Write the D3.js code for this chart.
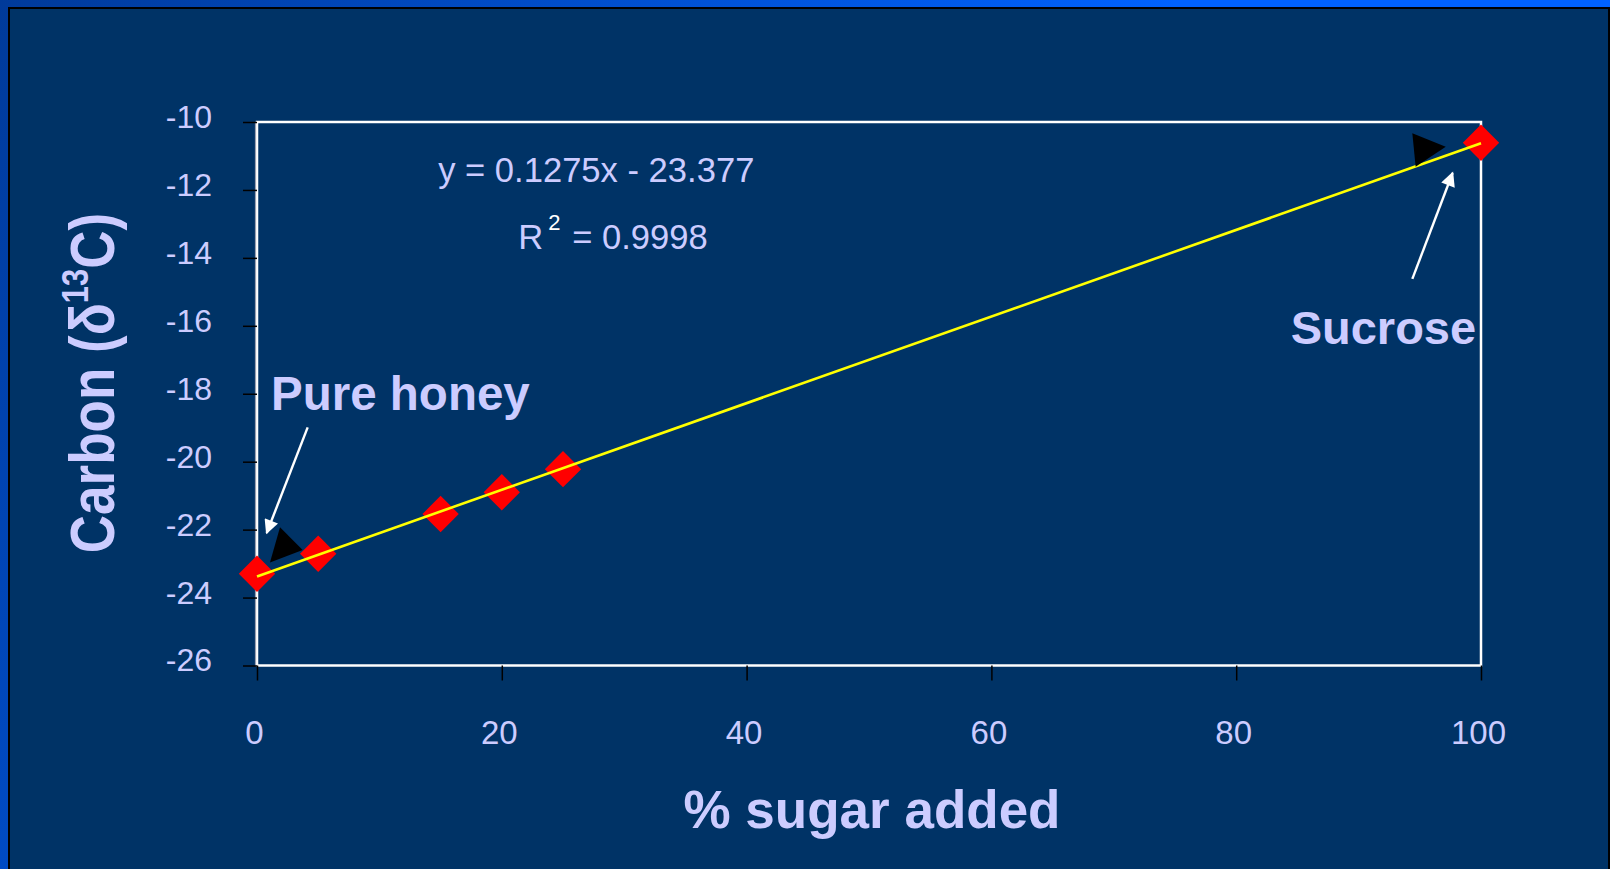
<!DOCTYPE html>
<html>
<head>
<meta charset="utf-8">
<script src="https://cdn.jsdelivr.net/npm/d3@7"></script>
<style>
  html, body { margin: 0; padding: 0; background: #003366; }
  svg { display: block; }
  text { font-family: "Liberation Sans", Arial, Helvetica, sans-serif; }
</style>
</head>
<body>
<svg id="chart" width="1610" height="869"></svg>
<script>
// Honey adulteration: carbon isotope ratio vs. percentage of cane sugar added
const sugarPct   = [0, 5, 15, 20, 25, 100];
const carbonD13C = [-23.30, -22.71, -21.54, -20.90, -20.22, -10.61];

const xTickValues = [0, 20, 40, 60, 80, 100];
const yTickValues = [-10, -12, -14, -16, -18, -20, -22, -24, -26];

// Linear regression reported for the series
const fitSlope = 0.1275;
const fitIntercept = -23.377;
const fitR2 = 0.9998;

const xTitle = "% sugar added";
const labelHoney = "Pure honey";
const labelSucrose = "Sucrose";

const W = 1610, H = 869;
const TEXT = "#ccccff";

const svg = d3.select("#chart");
const defs = svg.append("defs");

// slide backdrop
const grad = defs.append("linearGradient")
  .attr("id", "edge").attr("gradientUnits", "userSpaceOnUse")
  .attr("x1", 0).attr("y1", 0).attr("x2", 900).attr("y2", 500);
grad.append("stop").attr("offset", 0).attr("stop-color", "#003a9a");
grad.append("stop").attr("offset", 1).attr("stop-color", "#0062ff");
svg.append("rect").attr("width", W).attr("height", H).attr("fill", "url(#edge)");
svg.append("rect").attr("x", 8).attr("y", 7).attr("width", W - 8).attr("height", H - 7).attr("fill", "#000");
svg.append("rect").attr("x", 10).attr("y", 9).attr("width", W - 12).attr("height", H - 9).attr("fill", "#003366");

// arrowhead for annotation pointers
defs.append("marker")
  .attr("id", "head").attr("viewBox", "0 0 10 10")
  .attr("refX", 9).attr("refY", 5)
  .attr("markerWidth", 6.5).attr("markerHeight", 6)
  .attr("markerUnits", "strokeWidth")
  .attr("orient", "auto")
  .append("path").attr("d", "M0,0 L10,5 L0,10 Z").attr("fill", "#fff");

const x = d3.scaleLinear().domain([0, 100]).range([257, 1481]);
const y = d3.scaleLinear().domain([-26, -10]).range([665.5, 122]);

// plot frame
svg.append("rect")
  .attr("x", x(0)).attr("y", y(-10))
  .attr("width", x(100) - x(0)).attr("height", y(-26) - y(-10))
  .attr("fill", "none").attr("stroke", "#ffffff").attr("stroke-width", 2.5);
svg.append("line")
  .attr("x1", x(0) - 1.5).attr("x2", x(0) - 1.5)
  .attr("y1", y(-10)).attr("y2", y(-26))
  .attr("stroke", "#9aa0b0").attr("stroke-width", 1.2);

// y axis
const yAxis = svg.append("g")
  .attr("transform", `translate(${x(0)},0)`)
  .call(d3.axisLeft(y).tickValues(yTickValues).tickSize(14).tickPadding(31).tickFormat(d3.format("d")));
yAxis.select(".domain").remove();
yAxis.selectAll(".tick line").attr("stroke", "#000").attr("stroke-width", 1.5);
yAxis.selectAll(".tick text")
  .attr("fill", TEXT).attr("font-size", 32).attr("dy", "0.17em")
  .style("font-family", "'Liberation Sans', Arial, sans-serif")
  .text(d => d < 0 ? "-" + Math.abs(d) : d);

// x axis
const xAxis = svg.append("g")
  .attr("transform", `translate(0,${y(-26)})`)
  .call(d3.axisBottom(x).tickValues(xTickValues).tickSize(15));
xAxis.select(".domain").remove();
xAxis.selectAll(".tick line").attr("stroke", "#000").attr("stroke-width", 1.5);
xAxis.selectAll(".tick text")
  .attr("fill", TEXT).attr("font-size", 33).attr("x", -3).attr("y", 78).attr("dy", 0)
  .style("font-family", "'Liberation Sans', Arial, sans-serif");

// axis titles
svg.append("text")
  .attr("x", (x(0) + x(100)) / 2 + 3).attr("y", 828)
  .attr("text-anchor", "middle").attr("font-size", 53).attr("font-weight", "bold")
  .attr("fill", TEXT).text(xTitle);

const yTitle = svg.append("text")
  .attr("transform", "translate(114,383) rotate(-90) scale(1,1.2)")
  .attr("text-anchor", "middle").attr("font-size", 53).attr("font-weight", "bold")
  .attr("fill", TEXT);
yTitle.append("tspan").text("Carbon (\u03B4");
yTitle.append("tspan").attr("font-size", 31).attr("dy", -22).text("13");
yTitle.append("tspan").attr("dy", 22).text("C)");

// data points
const pts = sugarPct.map((p, i) => ({ p, c: carbonD13C[i] }));
svg.append("g").selectAll("path")
  .data(pts).join("path")
  .attr("transform", d => `translate(${x(d.p)},${y(d.c)}) rotate(45)`)
  .attr("d", d3.symbol(d3.symbolSquare, 660)())
  .attr("fill", "#ff0000");

// regression line
const fit = v => fitSlope * v + fitIntercept;
svg.append("path")
  .datum([0, 100])
  .attr("d", d3.line().x(d => x(d)).y(d => y(fit(d))))
  .attr("stroke", "#ffff00").attr("stroke-width", 2.6).attr("fill", "none");

// black pointer triangles
const triangles = [
  [[1.88, -21.93], [3.73, -22.60], [1.06, -22.97]],
  [[94.39, -10.33], [97.12, -10.73], [94.66, -11.32]]
];
svg.append("g").selectAll("path")
  .data(triangles).join("path")
  .attr("d", t => "M" + t.map(q => [x(q[0]), y(q[1])].join(",")).join("L") + "Z")
  .attr("fill", "#000");

// white annotation arrows
const arrows = [
  [[4.14, -18.99], [0.79, -22.10]],
  [[94.39, -14.62], [97.68, -11.50]]
];
svg.append("g").selectAll("line")
  .data(arrows).join("line")
  .attr("x1", a => x(a[0][0])).attr("y1", a => y(a[0][1]))
  .attr("x2", a => x(a[1][0])).attr("y2", a => y(a[1][1]))
  .attr("stroke", "#fff").attr("stroke-width", 2.4)
  .attr("marker-end", "url(#head)");

// annotation labels
svg.append("text")
  .attr("x", x(1.15)).attr("y", y(-18.48))
  .attr("font-size", 47.5).attr("font-weight", "bold").attr("fill", TEXT)
  .text(labelHoney);
svg.append("text")
  .attr("x", x(84.45)).attr("y", y(-16.55))
  .attr("font-size", 47).attr("font-weight", "bold").attr("fill", TEXT)
  .text(labelSucrose);

// regression equation
const sign = fitIntercept < 0 ? " - " : " + ";
svg.append("text")
  .attr("x", x(14.8)).attr("y", y(-11.76))
  .attr("font-size", 34.6).attr("fill", TEXT)
  .text(`y = ${fitSlope}x${sign}${Math.abs(fitIntercept)}`);

const r2 = svg.append("text")
  .attr("x", x(21.35)).attr("y", y(-13.75))
  .attr("font-size", 34.6).attr("fill", TEXT);
r2.append("tspan").text("R");
r2.append("tspan").attr("dx", 5).attr("dy", -19).attr("font-size", 22).attr("fill", "#ffffff").text("2");
r2.append("tspan").attr("dx", 2).attr("dy", 19).text(` = ${fitR2}`);
</script>
</body>
</html>
